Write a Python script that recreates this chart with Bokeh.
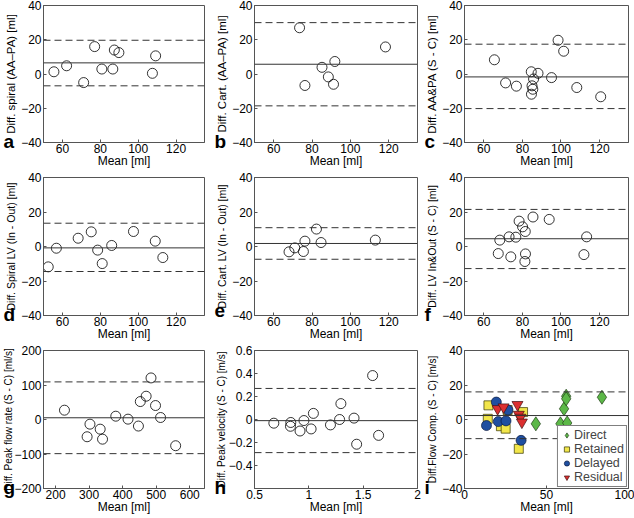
from bokeh.plotting import figure
from bokeh.layouts import gridplot
from bokeh.models import (Span, Title, FixedTicker, CustomJSTickFormatter, Range1d,
                          Legend, LegendItem)
from bokeh.embed import file_html
from bokeh.resources import INLINE

# ---------------- data ----------------
# (a) spiral AA-PA
a_x = [55.5, 62.2, 71.2, 77.0, 80.8, 86.6, 87.4, 89.8, 107.5, 109.2]
a_y = [1.3, 4.8, -5.0, 16.0, 2.9, 2.9, 14.0, 12.5, 0.4, 10.6]
a_lines = [6.5, 19.7, -6.9]          # mean, upper, lower
# (b) Cartesian AA-PA
b_x = [73.5, 76.3, 85.2, 88.5, 91.2, 91.9, 118.3]
b_y = [27.0, -6.7, 3.9, -1.7, -6.0, 7.3, 15.8]
b_lines = [5.7, 30.0, -18.6]
# (c) AA&PA S-C
c_x = [65.5, 71.3, 76.9, 84.6, 84.7, 85.0, 85.4, 85.8, 88.1, 95.1, 98.5, 101.4, 108.2, 120.6]
c_y = [8.3, -5.2, -7.1, 1.3, -11.8, -6.9, -8.9, -2.9, 0.4, -2.1, 19.7, 13.3, -7.9, -13.3]
c_lines = [-1.7, 17.4, -20.2]
# (d) spiral LV in-out
d_x = [52.5, 56.8, 68.3, 75.2, 78.6, 81.0, 86.0, 97.5, 109.0, 113.0]
d_y = [-11.8, -1.0, 4.8, 8.5, -2.1, -9.9, 0.6, 8.7, 3.1, -6.4]
d_lines = [-0.8, 13.5, -14.5]
# (e) Cartesian LV in-out
e_x = [68.0, 71.0, 75.5, 76.3, 82.3, 84.7, 113.0]
e_y = [-3.1, -0.8, -2.9, 3.1, 10.1, 2.3, 3.7]
e_lines = [1.75, 10.9, -7.4]
# (f) LV In&Out S-C
f_x = [67.5, 68.3, 73.1, 74.0, 76.6, 78.3, 80.1, 81.5, 81.6, 81.3, 85.5, 93.9, 111.9, 113.3]
f_y = [-4.1, 3.7, 5.6, -6.0, 5.4, 14.7, 11.4, 8.7, -4.3, -8.7, 17.1, 15.7, -4.7, 5.6]
f_lines = [4.5, 21.5, -12.8]
# (g) peak flow rate
g_x = [226.5, 294, 302.5, 333, 340, 379.5, 416, 447, 452.6, 470, 484.5, 498, 513, 558]
g_y = [27, -50, -13.5, -28, -57, 9.6, 1, -19, 52, 67.5, 120.5, 40.5, 5.8, -76]
g_lines = [5, 109, -99]
# (h) peak velocity
h_x = [0.678, 0.834, 0.831, 0.919, 0.955, 1.021, 1.042, 1.199, 1.283, 1.295, 1.416, 1.44, 1.587, 1.642]
h_y = [-0.032, -0.026, -0.059, -0.10, -0.009, -0.082, 0.053, -0.047, 0.0, 0.138, 0.012, -0.215, 0.382, -0.138]
h_lines = [-0.01, 0.27, -0.288]
# (i) flow components
direct_x = [43.5, 58.5, 60.7, 62.0, 62.0, 62.6, 83.8]
direct_y = [-2.5, -2.5, 6.2, 13.5, 12.0, -2.0, 12.9]
retained_x = [14.6, 14.2, 22.2, 25.1, 26.3, 33.1, 35.7]
retained_y = [8.2, 0.4, -3.9, -5.3, 5.5, -17.0, 4.3]
delayed_x = [13.4, 19.4, 20.6, 25.3, 26.5, 34.5]
delayed_y = [-3.5, 10.1, -1.2, -0.8, 5.5, -12.1]
residual_x = [20.2, 23.8, 32.3, 33.1, 34.1, 35.0]
residual_y = [6.2, 7.2, 8.6, 2.9, 1.2, -1.6]
i_lines = [2.3, 16.0, -11.1]

ml_xticks = [60, 80, 100, 120]
ml_yticks = [-40, -20, 0, 20, 40]
g_xticks = [200, 300, 400, 500, 600]
g_yticks = [-200, -100, 0, 100, 200]
h_xticks = [0.5, 1, 1.5, 2]
h_yticks = [-0.4, -0.2, 0, 0.2, 0.4, 0.6]
i_xticks = [0, 50, 100]

ylabels = ["Diff. spiral (AA\u2013PA) [ml]", "Diff. Cart. (AA\u2013PA) [ml]",
           "Diff. AA&PA (S - C) [ml]", "Diff. Spiral LV (In - Out) [ml]",
           "Diff. Cart. LV (In - Out) [ml]", "Diff. LV In&Out (S - C) [ml]",
           "Diff. Peak flow rate (S - C) [ml/s]", "Diff. Peak velocity (S - C) [m/s]",
           "Diff.Flow Comp. (S - C) [m/s]"]
xlabel = "Mean [ml]"
letters = ["a", "b", "c", "d", "e", "f", "g", "h", "i"]

# ---------------- style / layout ----------------
FONT = "Liberation Sans"
COLS = [(212, 38, 8), (211, 39, 6), (211, 39, 6)]      # width, left border, right border
ROWS = [(172, 5, 30), (173, 5, 30), (173, 5, 30)]      # height, top border, bottom border
FRAME_COL = "#555555"
fmt_code = "return tick < 0 ? '\\u2212' + (-tick) : '' + tick;"


def make_panel(idx, xr, yr, xticks, yticks, lines, ylab_size, ylab_standoff=1):
    w, bl, br = COLS[idx % 3]
    h, bt, bb = ROWS[idx // 3]
    p = figure(width=w, height=h, x_range=Range1d(*xr), y_range=Range1d(*yr),
               output_backend="svg", toolbar_location=None,
               min_border_left=bl, min_border_right=br, min_border_top=bt,
               min_border_bottom=bb)
    p.grid.visible = False
    p.outline_line_color = FRAME_COL
    p.outline_line_width = 1
    p.background_fill_color = "white"
    p.border_fill_color = "white"
    for ax, ticks in ((p.xaxis[0], xticks), (p.yaxis[0], yticks)):
        ax.ticker = FixedTicker(ticks=ticks)
        ax.formatter = CustomJSTickFormatter(code=fmt_code)
        ax.major_tick_in = 3
        ax.major_tick_out = 0
        ax.minor_tick_in = 0
        ax.minor_tick_out = 0
        ax.minor_tick_line_color = None
        ax.axis_line_color = FRAME_COL
        ax.major_tick_line_color = FRAME_COL
        ax.major_label_text_font = FONT
        ax.major_label_text_font_size = "12px"
        ax.major_label_text_color = "black"
        ax.major_label_standoff = 2
        ax.axis_label_text_font = FONT
        ax.axis_label_text_font_style = "normal"
        ax.axis_label_text_color = "black"
    p.xaxis.axis_label = xlabel
    p.xaxis.axis_label_text_font_size = "12px"
    p.xaxis.major_label_standoff = 1
    p.xaxis.axis_label_standoff = -2
    p.yaxis.axis_label = ylabels[idx]
    p.yaxis.axis_label_text_font_size = ylab_size
    p.yaxis.axis_label_standoff = ylab_standoff
    mean, up, lo = lines
    p.add_layout(Span(location=mean, dimension="width", line_color="#333333", line_width=1))
    p.add_layout(Span(location=up, dimension="width", line_color="#333333", line_width=1,
                      line_dash="7 4"))
    p.add_layout(Span(location=lo, dimension="width", line_color="#333333", line_width=1,
                      line_dash="7 4"))
    # panel letter: a zero-height title placed between the frame and the x axis,
    # its text hanging down beside the axis labels
    letter = Title(text=letters[idx], align="left", offset=-40, vertical_align="top",
                   standoff=-23, text_font=FONT, text_font_size="19px",
                   text_font_style="bold", text_color="black")
    p.below = [letter] + list(p.below)
    return p


def circles(p, x, y):
    p.scatter(x, y, marker="circle", size=10, fill_color=None, line_color="black",
              line_width=0.8)


pa = make_panel(0, (50, 135), (-40, 40), ml_xticks, ml_yticks, a_lines, "11.5px")
circles(pa, a_x, a_y)
pb = make_panel(1, (50, 135), (-40, 40), ml_xticks, ml_yticks, b_lines, "11.5px")
circles(pb, b_x, b_y)
pc = make_panel(2, (50, 135), (-40, 40), ml_xticks, ml_yticks, c_lines, "11.5px")
circles(pc, c_x, c_y)
pd = make_panel(3, (50, 135), (-40, 40), ml_xticks, ml_yticks, d_lines, "10.5px")
circles(pd, d_x, d_y)
pe = make_panel(4, (50, 135), (-40, 40), ml_xticks, ml_yticks, e_lines, "10.5px")
circles(pe, e_x, e_y)
pf = make_panel(5, (50, 135), (-40, 40), ml_xticks, ml_yticks, f_lines, "10.5px")
circles(pf, f_x, f_y)
pg = make_panel(6, (164, 644), (-200, 200), g_xticks, g_yticks, g_lines, "10px", -3)
circles(pg, g_x, g_y)
ph = make_panel(7, (0.5, 2), (-0.6, 0.6), h_xticks, h_yticks, h_lines, "10px", -1)
circles(ph, h_x, h_y)
pi = make_panel(8, (0, 100), (-40, 40), i_xticks, ml_yticks, i_lines, "10px")

r1 = pi.scatter(direct_x, direct_y, marker="diamond", size=14, fill_color="#5cb848",
                line_color="#1e3d12", line_width=0.7)
r2 = pi.scatter(retained_x, retained_y, marker="square", size=9, fill_color="#f2e64a",
                line_color="#333300", line_width=0.7)
r3 = pi.scatter(delayed_x, delayed_y, marker="circle", size=10, fill_color="#1f4fa0",
                line_color="#0a1a40", line_width=0.7)
r4 = pi.scatter(residual_x, residual_y, marker="inverted_triangle", size=11,
                fill_color="#dc3030", line_color="#401010", line_width=0.7)
legend = Legend(items=[LegendItem(label="Direct", renderers=[r1]),
                       LegendItem(label="Retained", renderers=[r2]),
                       LegendItem(label="Delayed", renderers=[r3]),
                       LegendItem(label="Residual", renderers=[r4])],
                location="bottom_right", margin=1, padding=2, spacing=0,
                label_text_font=FONT, label_text_font_size="12.5px",
                label_standoff=1, glyph_width=13, glyph_height=14, label_height=14,
                border_line_color="black", border_line_width=1,
                background_fill_color="white", background_fill_alpha=1)
pi.add_layout(legend)

grid = gridplot([[pa, pb, pc], [pd, pe, pf], [pg, ph, pi]], toolbar_location=None)

open("out.html", "w").write(file_html(grid, INLINE))
